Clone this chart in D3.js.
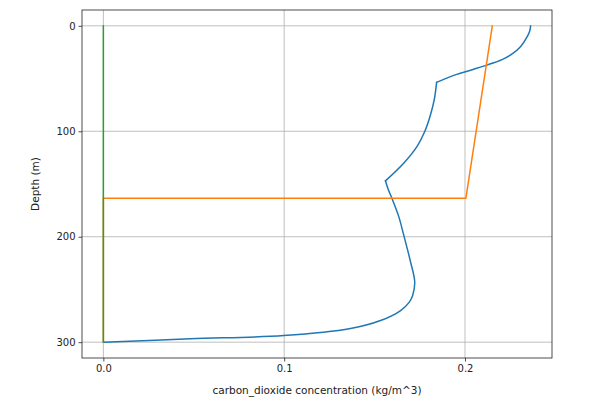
<!DOCTYPE html>
<html>
<head>
<meta charset="utf-8">
<script src="https://cdn.jsdelivr.net/npm/d3@7"></script>
<style>
  body { margin: 0; background: #fff; }
  svg text { font-family: "DejaVu Sans", sans-serif; fill: #222; }
</style>
</head>
<body>
<svg id="chart" width="607" height="407"></svg>
<script>
// Concentration profiles

// blue series (C0)
var blueDepth = [0, 5, 10, 19.5, 27.4, 32, 37, 41.6, 46.3, 53.6, 70, 85, 100, 114, 130, 147,
                 155, 164.5, 180, 199, 224, 243, 256, 262, 270, 279.5, 287, 293.7, 296.8, 300];
var blueConc = [0.2363, 0.2358, 0.2345, 0.2308, 0.2255, 0.2205, 0.2125, 0.2040, 0.1950, 0.1843,
                0.1830, 0.1808, 0.1778, 0.1736, 0.1662, 0.1560,
                0.1575, 0.1598, 0.1632, 0.1662, 0.1699, 0.1722, 0.1710, 0.1692, 0.1644,
                0.1533, 0.1367, 0.0998, 0.0481, 0.0];
// depths where the blue profile has a sharp corner
var blueKinks = [53.6, 147];

// orange series (C1)
var orangeDepth = [0, 163.5, 163.5, 300];
var orangeConc = [0.2151, 0.2005, 0.0, 0.0];

// green series (C2)
var greenDepth = [0, 300];
var greenConc = [0.0, 0.0];

var xTicks = [0.0, 0.1, 0.2];
var yTicks = [0, 100, 200, 300];

var svg = d3.select("#chart");
var plotLeft = 82, plotRight = 552, plotTop = 10, plotBottom = 358;

// matplotlib style 5% margins
var xMax = d3.max(blueConc);
var xPad = xMax * 0.05;
var x = d3.scaleLinear().domain([-xPad, xMax + xPad]).range([plotLeft, plotRight]);
var y = d3.scaleLinear().domain([-15, 315]).range([plotTop, plotBottom]);

// grid
var grid = svg.append("g");
grid.selectAll("line.gx")
  .data(xTicks)
  .enter()
  .append("line")
  .attr("class", "gx")
  .attr("x1", function(d) { return x(d); })
  .attr("x2", function(d) { return x(d); })
  .attr("y1", plotTop)
  .attr("y2", plotBottom)
  .attr("stroke", "#b0b0b0")
  .attr("stroke-width", 0.8);
grid.selectAll("line.gy")
  .data(yTicks)
  .enter()
  .append("line")
  .attr("class", "gy")
  .attr("x1", plotLeft)
  .attr("x2", plotRight)
  .attr("y1", function(d) { return y(d); })
  .attr("y2", function(d) { return y(d); })
  .attr("stroke", "#b0b0b0")
  .attr("stroke-width", 0.8);

// lines
var smoothLine = d3.line()
  .x(function(d) { return x(d[1]); })
  .y(function(d) { return y(d[0]); })
  .curve(d3.curveCatmullRom.alpha(0.5));
var straightLine = d3.line()
  .x(function(d) { return x(d[1]); })
  .y(function(d) { return y(d[0]); });

function drawPath(pts, color, gen) {
  svg.append("path")
    .datum(pts)
    .attr("d", gen)
    .attr("fill", "none")
    .attr("stroke", color)
    .attr("stroke-width", 1.5)
    .attr("stroke-linejoin", "round")
    .attr("stroke-linecap", "round");
}

// blue: smooth pieces between the corners
var bluePts = d3.zip(blueDepth, blueConc);
var cuts = [0].concat(blueKinks, [Infinity]);
for (var k = 0; k < cuts.length - 1; k++) {
  var piece = bluePts.filter(function(p) { return p[0] >= cuts[k] && p[0] <= cuts[k + 1]; });
  drawPath(piece, "#1f77b4", smoothLine);
}
drawPath(d3.zip(orangeDepth, orangeConc), "#ff7f0e", straightLine);
drawPath(d3.zip(greenDepth, greenConc), "#2ca02c", straightLine);

// axes
var xAxis = svg.append("g")
  .attr("transform", "translate(0," + plotBottom + ")")
  .call(d3.axisBottom(x).tickValues(xTicks).tickFormat(d3.format(".1f")).tickSizeOuter(0).tickSize(3.5).tickPadding(3));
var yAxis = svg.append("g")
  .attr("transform", "translate(" + plotLeft + ",0)")
  .call(d3.axisLeft(y).tickValues(yTicks).tickFormat(d3.format("d")).tickSizeOuter(0).tickSize(3.5).tickPadding(3));

[xAxis, yAxis].forEach(function(a) {
  a.select(".domain").remove();
  a.selectAll("line").attr("stroke", "#222").attr("stroke-width", 0.8);
  a.selectAll("text").style("font-size", "10px").attr("fill", "#222");
});

// frame
svg.append("rect")
  .attr("x", plotLeft)
  .attr("y", plotTop)
  .attr("width", plotRight - plotLeft)
  .attr("height", plotBottom - plotTop)
  .attr("fill", "none")
  .attr("stroke", "#222")
  .attr("stroke-width", 0.8);

// labels
svg.append("text")
  .attr("x", (plotLeft + plotRight) / 2)
  .attr("y", 394)
  .attr("text-anchor", "middle")
  .style("font-size", "10.5px")
  .text("carbon_dioxide concentration (kg/m^3)");

svg.append("text")
  .attr("transform", "translate(39," + ((plotTop + plotBottom) / 2) + ") rotate(-90)")
  .attr("text-anchor", "middle")
  .style("font-size", "10.5px")
  .text("Depth (m)");
</script>
</body>
</html>
